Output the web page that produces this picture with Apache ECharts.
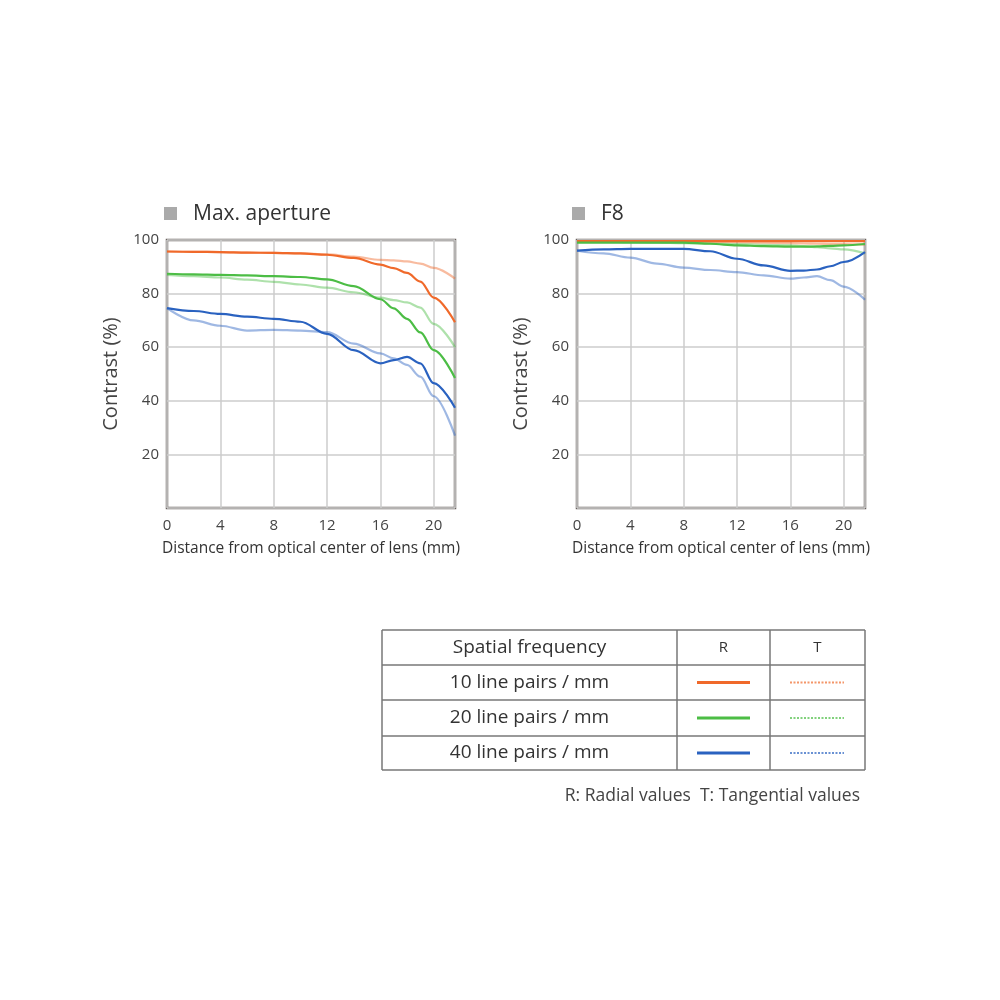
<!DOCTYPE html>
<html>
<head>
<meta charset="utf-8">
<script src="https://cdn.jsdelivr.net/npm/echarts@6/dist/echarts.min.js"></script>
<style>html,body{margin:0;background:#fff}#c{width:1000px;height:1000px}</style>
</head>
<body>
<div id="c"></div>
<script>
const xs = [0, 2, 4, 6, 8, 10, 12, 14, 16, 17, 18, 19, 20, 21.6]

// Max. aperture
const maxR10 = [95.7, 95.6, 95.5, 95.3, 95.2, 95.0, 94.5, 93.3, 90.8, 89.5, 87.7, 84.5, 78.5, 69.3]
const maxT10 = [95.7, 95.6, 95.5, 95.3, 95.2, 95.0, 94.6, 93.8, 92.6, 92.4, 92.0, 91.2, 89.6, 85.6]
const maxR20 = [87.4, 87.2, 87.0, 86.8, 86.5, 86.2, 85.3, 82.8, 77.9, 74.5, 70.6, 65.5, 58.9, 48.5]
const maxT20 = [87.0, 86.5, 86.0, 85.2, 84.4, 83.4, 82.2, 80.5, 78.5, 77.6, 76.7, 74.8, 68.7, 60.0]
const maxR40 = [74.6, 73.5, 72.4, 71.4, 70.6, 69.5, 65.0, 58.9, 54.0, 55.2, 56.4, 54.0, 46.6, 37.4]
const maxT40 = [74.6, 70.0, 68.0, 66.2, 66.5, 66.2, 65.6, 61.3, 57.7, 55.8, 53.4, 49.0, 41.7, 27.0]

// F8
const f8R10 = [99.6, 99.6, 99.6, 99.6, 99.6, 99.6, 99.6, 99.6, 99.6, 99.6, 99.6, 99.6, 99.6, 99.6]
const f8T10 = [99.5, 99.5, 99.5, 99.5, 99.4, 99.3, 99.2, 99.0, 98.8, 98.7, 98.6, 98.5, 98.5, 98.3]
const f8R20 = [99.0, 99.0, 99.0, 99.0, 99.0, 98.6, 98.0, 97.7, 97.5, 97.5, 97.6, 97.8, 98.0, 98.5]
const f8T20 = [99.5, 99.4, 99.2, 99.0, 98.8, 98.7, 98.5, 98.2, 98.0, 97.7, 97.3, 96.9, 96.5, 95.0]
const f8R40 = [96.0, 96.5, 96.7, 96.7, 96.7, 95.8, 93.0, 90.5, 88.5, 88.6, 89.0, 90.2, 91.8, 95.5]
const f8T40 = [96.0, 95.0, 93.4, 91.2, 89.7, 88.8, 88.0, 86.8, 85.6, 86.0, 86.5, 85.0, 82.6, 77.7]

const freqLabels = ['10 line pairs / mm', '20 line pairs / mm', '40 line pairs / mm']
const colors = ['#f0692a', '#4cbd45', '#2a62c0']

const pair = (ys) => xs.map((x, i) => [x, ys[i]])

const chart = echarts.init(document.getElementById('c'))

const grids = [
  { left: 167, top: 240, width: 288, height: 268 },
  { left: 577, top: 240, width: 288, height: 268 },
]

const xAxis = grids.map((g, i) => ({
  type: 'value', gridIndex: i, min: 0, max: 21.6, interval: 4,
  axisLine: { show: false }, axisTick: { show: false },
  axisLabel: { color: '#444', fontSize: 15, fontFamily: 'Open Sans', margin: 10, showMaxLabel: false },
  splitLine: { lineStyle: { color: '#ccc', width: 1.5 } },
  name: 'Distance from optical center of lens (mm)', nameLocation: 'middle', nameGap: 33,
  nameTextStyle: { color: '#333', fontSize: 15.5, fontFamily: 'Open Sans', letterSpacing: -0.6 },
}))

const yAxis = grids.map((g, i) => ({
  type: 'value', gridIndex: i, min: 0, max: 100, interval: 20,
  axisLine: { show: false }, axisTick: { show: false },
  axisLabel: { color: '#444', fontSize: 15, fontFamily: 'Open Sans', formatter: (v) => (v === 0 ? '' : v) },
  splitLine: { lineStyle: { color: '#ccc', width: 1.5 } },
  name: 'Contrast (%)', nameLocation: 'middle', nameGap: 46,
  nameTextStyle: { color: '#444', fontSize: 20, fontFamily: 'Open Sans' },
}))

function line(data, gi, color, light) {
  return {
    type: 'line', xAxisIndex: gi, yAxisIndex: gi, data: pair(data),
    smooth: 0.35, smoothMonotone: 'x', symbol: 'none', z: light ? 2 : 3,
    lineStyle: { color, width: 2.2, opacity: light ? 0.45 : 1 },
  }
}

const series = [
  line(maxT10, 0, colors[0], true), line(maxT20, 0, colors[1], true), line(maxT40, 0, colors[2], true),
  line(maxR10, 0, colors[0]), line(maxR20, 0, colors[1]), line(maxR40, 0, colors[2]),
  line(f8T10, 1, colors[0], true), line(f8T20, 1, colors[1], true), line(f8T40, 1, colors[2], true),
  line(f8R10, 1, colors[0]), line(f8R20, 1, colors[1]), line(f8R40, 1, colors[2]),
]

// legend table
const tx = 382, tw = 483, c1 = 677, c2 = 770
const rowsY = [630, 665, 700, 736, 770]
const txtStyle = { fill: '#333', fontSize: 19, fontFamily: 'Open Sans', letterSpacing: 1.2 }
const gfx = []
rowsY.forEach((y) => gfx.push({ type: 'line', shape: { x1: tx, y1: y, x2: tx + tw, y2: y }, style: { stroke: '#777', lineWidth: 1.5 } }))
;[tx, c1, c2, tx + tw].forEach((x) => gfx.push({ type: 'line', shape: { x1: x, y1: 630, x2: x, y2: 770 }, style: { stroke: '#777', lineWidth: 1.5 } }))
gfx.push({ type: 'text', x: (tx + c1) / 2, y: 648, style: Object.assign({ text: 'Spatial frequency', align: 'center', verticalAlign: 'middle' }, txtStyle) })
gfx.push({ type: 'text', x: (c1 + c2) / 2, y: 648, style: { text: 'R', align: 'center', verticalAlign: 'middle', fill: '#333', fontSize: 15, fontFamily: 'Open Sans' } })
gfx.push({ type: 'text', x: (c2 + tx + tw) / 2, y: 648, style: { text: 'T', align: 'center', verticalAlign: 'middle', fill: '#333', fontSize: 15, fontFamily: 'Open Sans' } })
freqLabels.forEach((t, i) => {
  const cy = (rowsY[i + 1] + rowsY[i + 2]) / 2
  gfx.push({ type: 'text', x: (tx + c1) / 2, y: cy, style: Object.assign({ text: t, align: 'center', verticalAlign: 'middle' }, txtStyle) })
  gfx.push({ type: 'line', shape: { x1: 697, y1: cy, x2: 750, y2: cy }, style: { stroke: colors[i], lineWidth: 3 } })
  gfx.push({ type: 'line', shape: { x1: 790, y1: cy, x2: 844, y2: cy }, style: { stroke: colors[i], lineWidth: 2, lineDash: [2, 1.5], opacity: 0.7 } })
})
gfx.push({ type: 'text', x: 860, y: 796, style: { text: 'R: Radial values  T: Tangential values', align: 'right', verticalAlign: 'middle', fill: '#444', fontSize: 17.5, fontFamily: 'Open Sans' } })

// panel titles
;[['Max. aperture', 164], ['F8', 572]].forEach(([t, x]) => {
  gfx.push({ type: 'rect', shape: { x, y: 207, width: 13, height: 13 }, style: { fill: '#aaa' } })
  gfx.push({ type: 'text', x: x + 29, y: 214, style: { text: t, verticalAlign: 'middle', fill: '#333', fontSize: 21, fontFamily: 'Open Sans' } })
})

chart.setOption({
  animation: false,
  grid: grids.map((g) => Object.assign({ show: true, borderColor: '#6b6360', borderWidth: 2.5, backgroundColor: 'transparent' }, g)),
  xAxis,
  yAxis,
  series,
  graphic: gfx,
})
</script>
</body>
</html>
